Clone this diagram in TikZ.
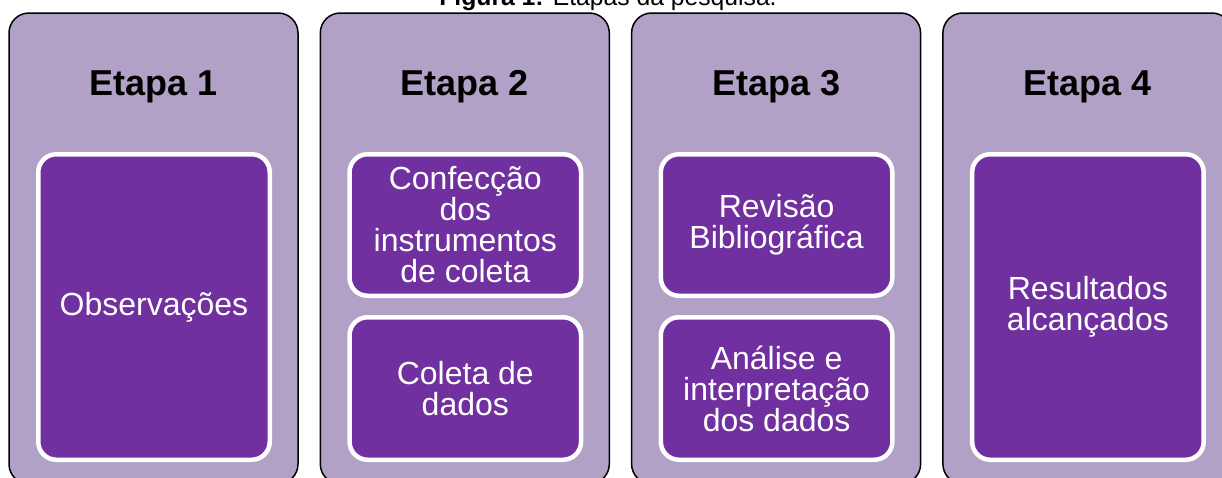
\documentclass[tikz,border=0pt]{standalone}
\usepackage{fontspec}
\setmainfont{Liberation Sans}

\definecolor{etapafill}{HTML}{B2A1C7}
\definecolor{itemfill}{HTML}{7030A0}

\tikzset{
    etapabox/.style={draw=black, line width=1.5pt, fill=etapafill, rounded corners=20pt,
        minimum width=289pt, minimum height=471pt, anchor=north west, inner sep=0pt, outer sep=0pt},
    titulo/.style={font=\fontsize{36}{40}\selectfont\bfseries, anchor=base, inner sep=0pt},
    itembox/.style={draw=white, line width=4.5pt, fill=itemfill, rounded corners=18pt,
        minimum width=231.5pt, anchor=north west, inner sep=0pt, outer sep=0pt,
        text=white, align=center, font=\fontsize{32}{31}\selectfont},
    legenda/.style={font=\fontsize{24.7}{28}\selectfont, anchor=base, inner sep=0pt}
}

\newcommand\etapa[2]{ 
    \node[etapabox] (etapa#1) at (#2,13) {};
    \node[titulo] (titulo#1) at (#2+144.5,95) {Etapa #1};
}
\newcommand\etapaitem[5]{ 
    \node[itembox, minimum height=#4] (#1) at (#2+29.25,#3+2.25) {#5};
}

\begin{document}
\begin{tikzpicture}[x=1pt, y=-1pt]
    \useasboundingbox (0,0) rectangle (1222,477);
    \clip (0,0) rectangle (1222,477);

    \node[legenda] (figura) at (608,5.5) {\textbf{Figura 1:} Etapas da pesquisa.};

    \etapa{1}{9}
    \etapaitem{observacoes}{9}{152}{305.5pt}{Observações}

    \etapa{2}{320.3}
    \etapaitem{confeccao}{320.3}{152}{141.5pt}{Confecção\\dos\\instrumentos\\de coleta}
    \etapaitem{coleta}{320.3}{315}{142.5pt}{Coleta de\\dados}

    \etapa{3}{631.6}
    \etapaitem{revisao}{631.6}{152}{141.5pt}{Revisão\\Bibliográfica}
    \etapaitem{analise}{631.6}{315}{142.5pt}{Análise e\\interpretação\\dos dados}

    \etapa{4}{942.9}
    \etapaitem{resultados}{942.9}{152}{305.5pt}{Resultados\\alcançados}

\end{tikzpicture}
\end{document}
